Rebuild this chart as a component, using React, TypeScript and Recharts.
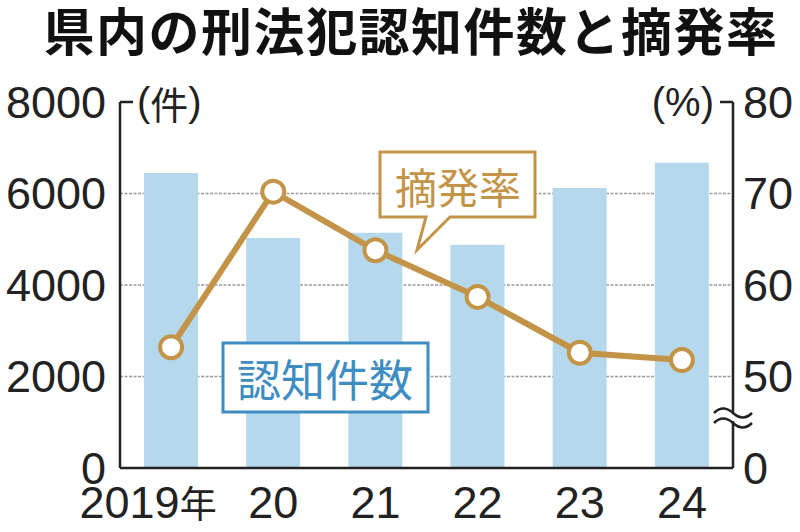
import { ComposedChart, Bar, Line, XAxis, YAxis, CartesianGrid } from "recharts";

// 県内の刑法犯認知件数と摘発率
const years = ["2019", "20", "21", "22", "23", "24"];
const cases = [6450, 5030, 5140, 4880, 6120, 6670];
const rates = [53.2, 70.2, 63.8, 58.7, 52.6, 51.8];

const caseTicks = [0, 2000, 4000, 6000, 8000];
const rateTicks = [40, 50, 60, 70, 80];

const chartData = years.map((y, i) => ({ year: y, cases: cases[i], rate: rates[i] }));

const NUM_FONT = '"Liberation Sans", "Noto Sans CJK JP", sans-serif';
const JP_FONT = '"Noto Sans CJK JP", sans-serif';
const GOLD = "#c39447";
const BLUE = "#3d8dc2";
const BAR = "#b6d8ed";
const INK = "#222";

const YearTick = (props: any) => {
  const { x, y, payload } = props;
  const first = payload.value === "2019";
  return (
    <text
      x={first ? x - 23 : x}
      y={y + 42}
      textAnchor="middle"
      fontFamily={NUM_FONT}
      fontSize={45}
      fill={INK}
    >
      {payload.value}
      {first && (
        <tspan fontFamily={JP_FONT} fontSize={37}>
          年
        </tspan>
      )}
    </text>
  );
};

export default function App() {
  return (
    <div style={{ position: "absolute", left: 0, top: 0, width: 800, height: 532, background: "#fff" }}>
      <ComposedChart
        width={800}
        height={532}
        data={chartData}
        margin={{ top: 102, right: 0, left: 0, bottom: 4 }}
        barCategoryGap={0}
      >
        <CartesianGrid
          yAxisId="left"
          vertical={false}
          horizontalValues={[2000, 4000, 6000]}
          stroke="#9a9a9a"
          strokeWidth={1.5}
          strokeDasharray="3 1.5"
        />
        <XAxis
          dataKey="year"
          axisLine={{ stroke: INK, strokeWidth: 2.5 }}
          tickLine={false}
          height={60}
          tick={<YearTick />}
          interval={0}
        />
        <YAxis
          yAxisId="left"
          domain={[0, 8000]}
          ticks={caseTicks}
          width={120}
          axisLine={{ stroke: INK, strokeWidth: 2.5 }}
          tickLine={false}
          tickMargin={8}
          tick={{ fontFamily: NUM_FONT, fontSize: 45, fill: INK }}
          allowDataOverflow
        />
        <YAxis
          yAxisId="right"
          orientation="right"
          domain={[40, 80]}
          ticks={rateTicks}
          width={67}
          axisLine={{ stroke: INK, strokeWidth: 2.5 }}
          tickLine={false}
          tickMargin={4}
          tickFormatter={(v: number) => (v === 40 ? "0" : String(v))}
          tick={{ fontFamily: NUM_FONT, fontSize: 45, fill: INK, textAnchor: "start" }}
          allowDataOverflow
        />
        <Bar yAxisId="left" dataKey="cases" fill={BAR} barSize={54} isAnimationActive={false} />
        <Line
          yAxisId="right"
          dataKey="rate"
          type="linear"
          stroke={GOLD}
          strokeWidth={6}
          dot={{ r: 11, fill: "#fff", stroke: GOLD, strokeWidth: 4 }}
          activeDot={false}
          isAnimationActive={false}
        />
      </ComposedChart>

      {/* title as plain html above the chart */}
      <div
        style={{
          position: "absolute",
          left: 0,
          top: 4,
          width: 800,
          textAlign: "center",
          fontFamily: JP_FONT,
          fontWeight: 700,
          fontSize: 51,
          lineHeight: "51px",
          letterSpacing: 1.5,
          whiteSpace: "nowrap",
          color: "#111",
        }}
      >
        <span style={{ marginLeft: 22 }}>県内の刑法犯認知件数と摘発率</span>
      </div>

      {/* units, callouts and axis break */}
      <svg
        width={800}
        height={532}
        style={{ position: "absolute", left: 0, top: 0, pointerEvents: "none" }}
      >
        <line x1={120} y1={102} x2={133} y2={102} stroke={INK} strokeWidth={2.5} />
        <text x={137} y={102} dominantBaseline="central" fontFamily={NUM_FONT} fontSize={40} fill={INK}>
          (<tspan fontFamily={JP_FONT} fontSize={38}>件</tspan>)
        </text>
        <line x1={720} y1={102} x2={733} y2={102} stroke={INK} strokeWidth={2.5} />
        <text x={714} y={102} textAnchor="end" dominantBaseline="central" fontFamily={NUM_FONT} fontSize={40} fill={INK}>
          (%)
        </text>

        <path
          d="M380,152 H535 V217 H450 L417,250 L426,217 H380 Z"
          fill="#fff"
          stroke={GOLD}
          strokeWidth={3}
        />
        <text x={458} y={185} textAnchor="middle" dominantBaseline="central" fontFamily={JP_FONT} fontSize={42} fill={GOLD}>
          摘発率
        </text>

        <rect x={223} y={343} width={205} height={69} fill="#fff" stroke={BLUE} strokeWidth={3} />
        <text x={325} y={378} textAnchor="middle" dominantBaseline="central" fontFamily={JP_FONT} fontSize={44} fill={BLUE}>
          認知件数
        </text>

        <rect x={728} y={412} width={10} height={9} fill="#fff" />
        <path d="M714,413 q9,-9 19,0 t19,0" fill="none" stroke={INK} strokeWidth={2.5} />
        <path d="M714,423 q9,-9 19,0 t19,0" fill="none" stroke={INK} strokeWidth={2.5} />
      </svg>
    </div>
  );
}
